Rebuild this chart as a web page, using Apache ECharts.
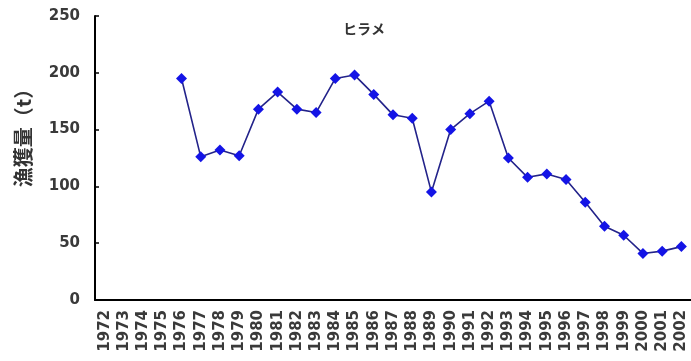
<!DOCTYPE html>
<html>
<head>
<meta charset="utf-8">
<script src="https://cdn.jsdelivr.net/npm/echarts@6/dist/echarts.min.js"></script>
<style>
  html, body { margin: 0; padding: 0; background: #fff; }
  #chart { width: 691px; height: 361px; }
</style>
</head>
<body>
<div id="chart"></div>
<script>
// 年（カテゴリ）
var years = ['1972', '1973', '1974', '1975', '1976', '1977', '1978', '1979', '1980', '1981',
  '1982', '1983', '1984', '1985', '1986', '1987', '1988', '1989', '1990', '1991',
  '1992', '1993', '1994', '1995', '1996', '1997', '1998', '1999', '2000', '2001', '2002'];
// ヒラメ漁獲量（t）
var catchTons = [null, null, null, null, 195, 126, 132, 127, 168, 183,
  168, 165, 195, 198, 181, 163, 160, 95, 150, 164,
  175, 125, 108, 111, 106, 86, 65, 57, 41, 43, 47];
var yTicks = [0, 50, 100, 150, 200, 250];

var myChart = echarts.init(document.getElementById('chart'));
var option = {
  backgroundColor: '#fff',
  animation: false,
  title: {
    text: 'ヒラメ',
    left: 338,
    top: 17,
    textStyle: {
      fontFamily: 'Noto Sans CJK JP',
      fontSize: 14,
      fontWeight: 'bold',
      color: '#333'
    }
  },
  grid: {
    left: 95,
    top: 16,
    bottom: 61,
    right: -2
  },
  xAxis: {
    type: 'category',
    data: years,
    boundaryGap: true,
    axisLine: { lineStyle: { color: '#000', width: 2 } },
    axisTick: { inside: true, length: 5, lineStyle: { color: '#000', width: 1.5 } },
    axisLabel: {
      rotate: 90,
      interval: 0,
      margin: 10,
      padding: [0, 0, 8, 0],
      fontFamily: 'DejaVu Sans',
      fontWeight: 'bold',
      fontSize: 15,
      color: '#3a3a3a'
    }
  },
  yAxis: {
    type: 'value',
    min: yTicks[0],
    max: yTicks[yTicks.length - 1],
    interval: 50,
    name: '漁獲量（t）',
    nameLocation: 'middle',
    nameRotate: 90,
    nameGap: 62,
    nameTextStyle: {
      fontFamily: 'Noto Sans CJK JP',
      fontSize: 20,
      fontWeight: 'bold',
      color: '#333',
      padding: [0, 0, 0, 50]
    },
    splitLine: { show: false },
    axisLine: { show: true, lineStyle: { color: '#000', width: 2 } },
    axisTick: { show: true, inside: true, length: 4, lineStyle: { color: '#000', width: 1.5 } },
    axisLabel: {
      margin: 15,
      fontFamily: 'DejaVu Sans',
      fontWeight: 'bold',
      fontSize: 15,
      color: '#3a3a3a'
    }
  },
  series: [
    {
      name: 'ヒラメ',
      type: 'line',
      data: catchTons,
      symbol: 'diamond',
      symbolSize: 11,
      itemStyle: { color: '#1414e6' },
      lineStyle: { color: '#23238a', width: 1.6 }
    }
  ]
};
myChart.setOption(option);
</script>
</body>
</html>
